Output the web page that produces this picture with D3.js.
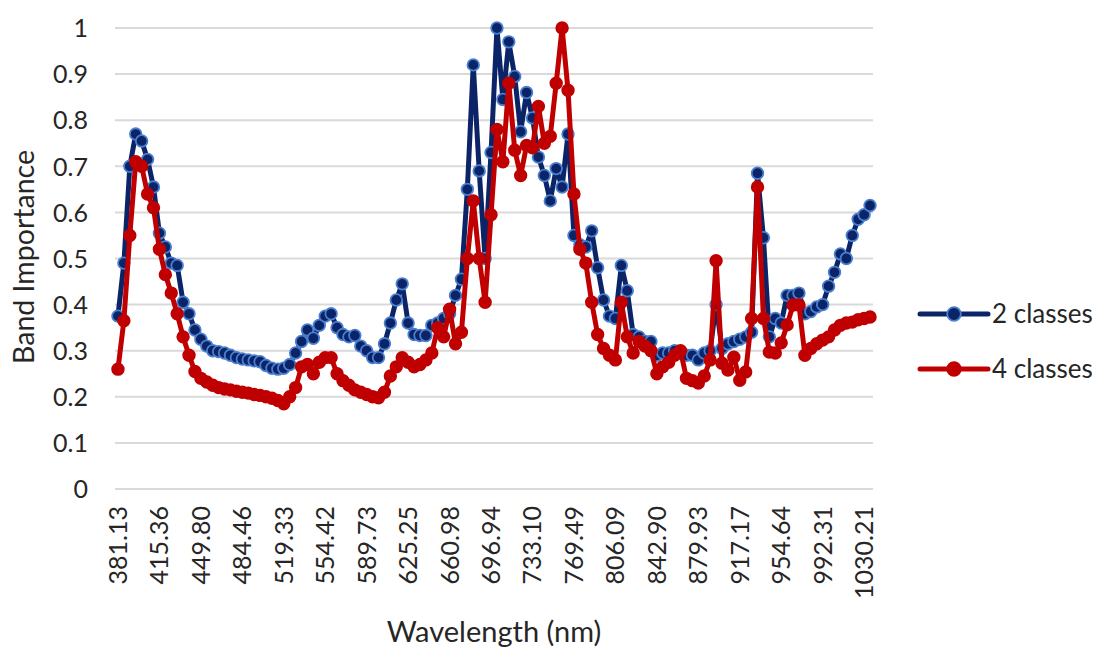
<!DOCTYPE html>
<html>
<head>
<meta charset="utf-8">
<script src="https://cdn.jsdelivr.net/npm/d3@7/dist/d3.min.js"></script>
<style>
  html, body { margin: 0; padding: 0; background: #fff; }
  svg { display: block; font-family: Lato, "Open Sans", sans-serif; }
</style>
</head>
<body>
<svg id="chart" width="1102" height="650"></svg>
<script>
// Wavelength labels shown on the x axis (one every 7 bands)
const tickLabels = ["381.13", "415.36", "449.80", "484.46", "519.33", "554.42", "589.73",
  "625.25", "660.98", "696.94", "733.10", "769.49", "806.09", "842.90", "879.93",
  "917.17", "954.64", "992.31", "1030.21"];
const bandsPerTick = 7;

// Band importance, 2-class model
const twoClasses = [
  0.375, 0.49, 0.70, 0.77, 0.755, 0.715, 0.655, 0.555, 0.525, 0.49,
  0.485, 0.405, 0.38, 0.345, 0.325, 0.31, 0.30, 0.298, 0.295, 0.29,
  0.285, 0.282, 0.28, 0.278, 0.276, 0.268, 0.262, 0.26, 0.262, 0.27,
  0.295, 0.32, 0.345, 0.327, 0.355, 0.375, 0.38, 0.35, 0.335, 0.33,
  0.333, 0.31, 0.30, 0.285, 0.285, 0.315, 0.36, 0.41, 0.445, 0.36,
  0.335, 0.333, 0.333, 0.355, 0.36, 0.37, 0.38, 0.42, 0.455, 0.65,
  0.92, 0.69, 0.50, 0.73, 1.0, 0.845, 0.97, 0.895, 0.775, 0.86,
  0.805, 0.72, 0.68, 0.625, 0.695, 0.655, 0.77, 0.55, 0.53, 0.525,
  0.56, 0.48, 0.41, 0.375, 0.37, 0.485, 0.43, 0.335, 0.33, 0.32,
  0.32, 0.29, 0.295, 0.295, 0.30, 0.295, 0.29, 0.29, 0.28, 0.295,
  0.30, 0.40, 0.305, 0.315, 0.32, 0.325, 0.33, 0.34, 0.685, 0.545,
  0.33, 0.37, 0.36, 0.42, 0.42, 0.425, 0.38, 0.385, 0.395, 0.40,
  0.44, 0.47, 0.51, 0.50, 0.55, 0.585, 0.595, 0.615
];

// Band importance, 4-class model
const fourClasses = [
  0.26, 0.365, 0.55, 0.71, 0.70, 0.64, 0.61, 0.52, 0.465, 0.425,
  0.38, 0.33, 0.29, 0.255, 0.24, 0.232, 0.225, 0.22, 0.217, 0.215,
  0.212, 0.21, 0.208, 0.205, 0.203, 0.20, 0.197, 0.192, 0.185, 0.20,
  0.22, 0.265, 0.27, 0.25, 0.275, 0.285, 0.285, 0.25, 0.235, 0.225,
  0.215, 0.21, 0.205, 0.20, 0.198, 0.21, 0.245, 0.265, 0.285, 0.275,
  0.265, 0.27, 0.28, 0.295, 0.35, 0.33, 0.39, 0.315, 0.34, 0.50,
  0.625, 0.50, 0.405, 0.595, 0.78, 0.71, 0.88, 0.735, 0.68, 0.745,
  0.74, 0.83, 0.75, 0.765, 0.88, 1.0, 0.865, 0.64, 0.52, 0.49,
  0.405, 0.335, 0.305, 0.29, 0.28, 0.405, 0.33, 0.295, 0.32, 0.31,
  0.30, 0.25, 0.265, 0.275, 0.29, 0.30, 0.24, 0.235, 0.23, 0.245,
  0.28, 0.495, 0.273, 0.258, 0.286, 0.236, 0.254, 0.37, 0.655, 0.37,
  0.297, 0.295, 0.317, 0.356, 0.399, 0.399, 0.29, 0.305, 0.315, 0.323,
  0.33, 0.345, 0.355, 0.36, 0.362, 0.367, 0.37, 0.373
];

const seriesNames = ["2 classes", "4 classes"];

const series = [
  { name: seriesNames[0], values: twoClasses, line: "#0b2467", fill: "#0b2467", ring: "#4a7fd0" },
  { name: seriesNames[1], values: fourClasses, line: "#c00000", fill: "#c00000", ring: "#c00000" }
];

const svg = d3.select("#chart");
const plot = { left: 115, right: 873, top: 28, bottom: 489 };
const textColor = "#262626";

const bandIdx = d3.range(twoClasses.length);
const x = d3.scaleBand().domain(bandIdx).range([plot.left, plot.right]).padding(0);
const cx = i => x(i) + x.bandwidth() / 2;
const y = d3.scaleLinear().domain([0, 1]).range([plot.bottom, plot.top]);

// horizontal gridlines
svg.append("g")
  .selectAll("line")
  .data(y.ticks(10))
  .join("line")
  .attr("x1", plot.left).attr("x2", plot.right)
  .attr("y1", d => y(d)).attr("y2", d => y(d))
  .attr("stroke", "#d9d9d9").attr("stroke-width", 2);

// y axis labels
const yAxis = svg.append("g")
  .attr("transform", `translate(${plot.left - 27},0)`)
  .call(d3.axisLeft(y).tickValues(y.ticks(10)).tickFormat(d3.format("~g")).tickSize(0).tickPadding(0));
yAxis.select(".domain").remove();
yAxis.selectAll("text")
  .attr("fill", textColor)
  .style("font-size", "25px")
  .style("font-family", "Lato, 'Open Sans', sans-serif")
  .attr("dy", "0.35em");

// x axis labels, rotated
const tickIdx = tickLabels.map((_, k) => k * bandsPerTick);
const xAxis = svg.append("g")
  .attr("transform", `translate(0,${plot.bottom})`)
  .call(d3.axisBottom(x).tickValues(tickIdx)
    .tickFormat((d) => tickLabels[d / bandsPerTick]).tickSize(0).tickPadding(0));
xAxis.select(".domain").remove();
xAxis.selectAll("text")
  .attr("fill", textColor)
  .style("font-size", "25px")
  .style("font-family", "Lato, 'Open Sans', sans-serif")
  .attr("text-anchor", "end")
  .attr("transform", "translate(0,17) rotate(-90)")
  .attr("x", 0)
  .attr("y", 0)
  .attr("dy", "0.36em");

// axis titles
svg.append("text")
  .attr("transform", `translate(34,257) rotate(-90)`)
  .attr("text-anchor", "middle")
  .attr("fill", textColor)
  .style("font-size", "28.5px")
  .text("Band Importance");

svg.append("text")
  .attr("x", 494).attr("y", 642)
  .attr("text-anchor", "middle")
  .attr("fill", textColor)
  .style("font-size", "29px")
  .text("Wavelength (nm)");

// series lines and markers
const line = d3.line().x((d, i) => cx(i)).y(d => y(d));

series.forEach(s => {
  const g = svg.append("g");
  g.append("path")
    .datum(s.values)
    .attr("d", line)
    .attr("fill", "none")
    .attr("stroke", s.line)
    .attr("stroke-width", 5)
    .attr("stroke-linejoin", "round");
  g.selectAll("circle")
    .data(s.values)
    .join("circle")
    .attr("cx", (d, i) => cx(i))
    .attr("cy", d => y(d))
    .attr("r", 5.8)
    .attr("fill", s.fill)
    .attr("stroke", s.ring)
    .attr("stroke-width", 1.8);
});

// legend
const legend = svg.append("g");
const legendY = [314, 369];
series.forEach((s, k) => {
  const gy = legendY[k];
  legend.append("line")
    .attr("x1", 920).attr("x2", 988)
    .attr("y1", gy).attr("y2", gy)
    .attr("stroke", s.line).attr("stroke-width", 5)
    .attr("stroke-linecap", "round");
  legend.append("circle")
    .attr("cx", 954).attr("cy", gy).attr("r", 6.8)
    .attr("fill", s.fill).attr("stroke", s.ring).attr("stroke-width", 1.8);
  legend.append("text")
    .attr("x", 992).attr("y", gy)
    .attr("dy", "0.35em")
    .attr("fill", textColor)
    .style("font-size", "26px")
    .text(s.name);
});
</script>
</body>
</html>
